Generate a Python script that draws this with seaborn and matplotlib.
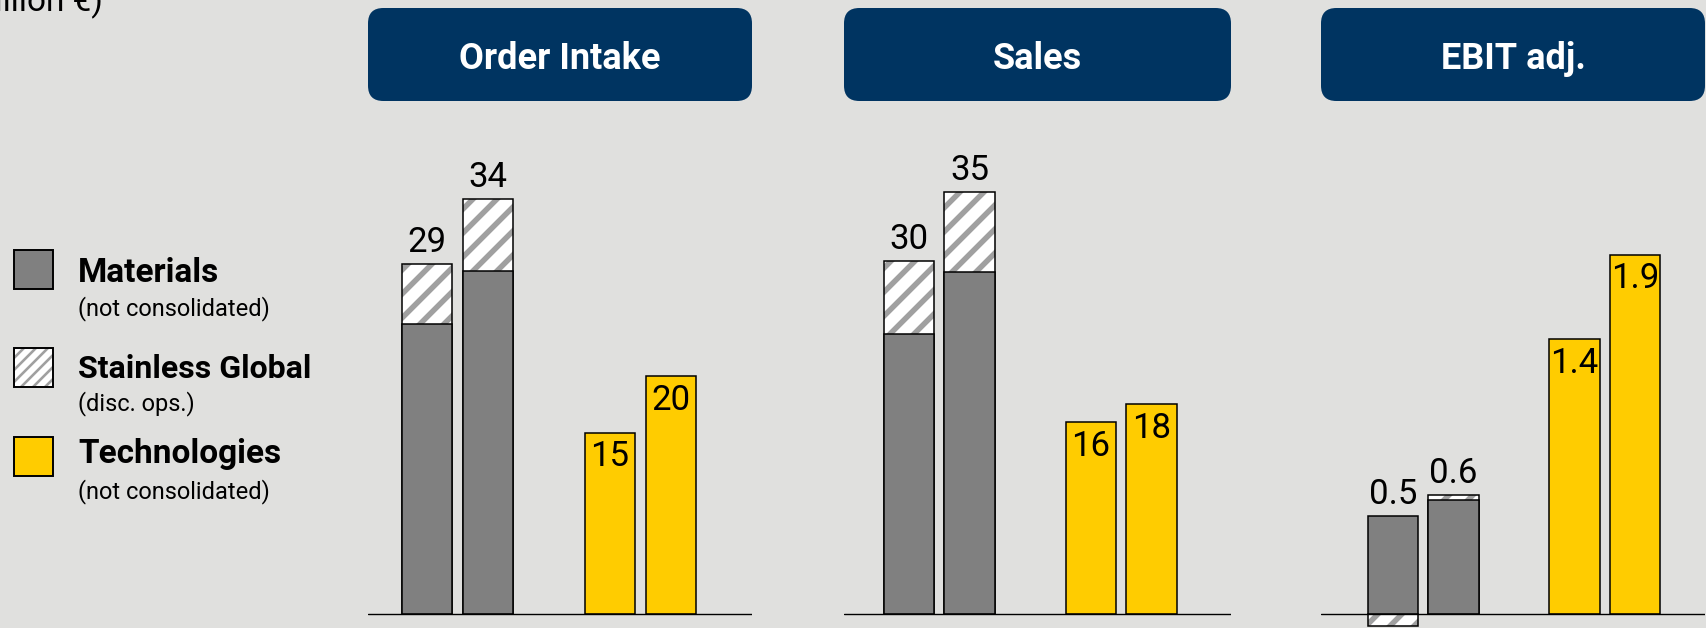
import matplotlib
matplotlib.use("Agg")
import matplotlib.pyplot as plt
from matplotlib.patches import FancyBboxPatch, Rectangle
import seaborn as sns

# ---------------- data ----------------
panel_titles = ["Order Intake", "Sales", "EBIT adj."]
legend_names = ["Materials", "Stainless Global", "Technologies"]
legend_notes = ["(not consolidated)", "(disc. ops.)", "(not consolidated)"]
unit_text = "(in million €)"

oi_materials = [24.0, 28.4]
oi_stainless = [5.0, 6.0]
oi_tech = [15.0, 19.7]
oi_mat_labels = ["29", "34"]
oi_tech_labels = ["15", "20"]

sales_materials = [23.5, 28.7]
sales_stainless = [6.1, 6.7]
sales_tech = [16.1, 17.6]
sales_mat_labels = ["30", "35"]
sales_tech_labels = ["16", "18"]

ebit_materials = [0.50, 0.58]
ebit_stainless = [-0.065, 0.024]
ebit_tech = [1.40, 1.83]
ebit_mat_labels = ["0.5", "0.6"]
ebit_tech_labels = ["1.4", "1.9"]

# ---------------- style ----------------
W, H, DPI = 1706, 628, 72
K = 100 / 72          # sizes below were tuned for 100 dpi
BG = "#e0e0de"
NAVY = "#003461"
GRAY = "#808080"
YELLOW = "#ffcc00"
HATCH_GRAY = "#a0a0a0"

sns.set_theme(style="white")
plt.rcParams["font.family"] = ["Roboto", "DejaVu Sans"]

fig = plt.figure(figsize=(W / DPI, H / DPI), dpi=DPI, facecolor=BG)

BAR_W = 0.83
pair_x = [0, 1]
tech_x = [3, 4]

layouts = [
    dict(L=368, R=752, c0=427, u=61.0, s=12.05),
    dict(L=844, R=1231, c0=909, u=60.6, s=11.9),
    dict(L=1321, R=1705, c0=1393, u=60.5, s=196.0),
]
datasets = [
    (oi_materials, oi_stainless, oi_tech, oi_mat_labels, oi_tech_labels),
    (sales_materials, sales_stainless, sales_tech, sales_mat_labels, sales_tech_labels),
    (ebit_materials, ebit_stainless, ebit_tech, ebit_mat_labels, ebit_tech_labels),
]

AX_TOP = 110      # px from top
BASE_Y = 613.5    # baseline px from top


def set_hlw(p, lw):
    if hasattr(p, "set_hatch_linewidth"):
        p.set_hatch_linewidth(lw)


def bars(ax, xs, hs, hatch_lw=None, **props):
    n0 = len(ax.patches)
    sns.barplot(x=xs, y=hs, native_scale=True, width=BAR_W, errorbar=None,
                ax=ax, color=GRAY)
    new = ax.patches[n0:]
    for p in new:
        p.set(**props)
        if hatch_lw is not None:
            set_hlw(p, hatch_lw)
    return new


plt.rcParams["hatch.linewidth"] = 5.5
for title, lay, (mat, sg, tech, mlab, tlab) in zip(panel_titles, layouts, datasets):
    L, R = lay["L"], lay["R"]
    ax = fig.add_axes([L / W, 0, (R - L) / W, (H - AX_TOP) / H])
    ax.set_facecolor("none")
    ax_h = H - AX_TOP
    below = H - BASE_Y
    s = lay["s"]
    ax.set_ylim(-below / s, (ax_h - below) / s)

    hatch_h = [m + v if v > 0 else v for m, v in zip(mat, sg)]
    bars(ax, pair_x, hatch_h, hatch_lw=5.5, facecolor="white",
         edgecolor=HATCH_GRAY, linewidth=0, hatch="/", zorder=2)
    bars(ax, pair_x, hatch_h, facecolor="none", edgecolor="black",
         linewidth=1.1 * K, zorder=3)
    bars(ax, pair_x, mat, facecolor=GRAY, edgecolor="black",
         linewidth=1.1 * K, zorder=4)
    bars(ax, tech_x, tech, facecolor=YELLOW, edgecolor="black",
         linewidth=1.1 * K, zorder=4)

    ax.axhline(0, color="black", lw=1.0 * K, zorder=5)

    for x, m, v, lab in zip(pair_x, mat, sg, mlab):
        top = max(m, m + v)
        ax.annotate(lab, xy=(x, top), xytext=(0, 8.5 * K), textcoords="offset points",
                    ha="center", va="baseline", fontsize=25 * K, color="black", zorder=6)
    for x, t, lab in zip(tech_x, tech, tlab):
        ax.annotate(lab, xy=(x, t), xytext=(0, -5.5 * K), textcoords="offset points",
                    ha="center", va="top", fontsize=25 * K, color="black", zorder=6)

    ax.set_xlim((L - lay["c0"]) / lay["u"], (R - lay["c0"]) / lay["u"])
    ax.axis("off")

    # header box
    box = FancyBboxPatch((L / W, 1 - 101 / H), (R - L) / W, 93 / H,
                         boxstyle="round,pad=0,rounding_size=0.009",
                         transform=fig.transFigure, facecolor=NAVY,
                         edgecolor="none", mutation_aspect=W / H)
    fig.add_artist(box)
    fig.text((L + R) / 2 / W, 1 - 69 / H, title, ha="center", va="baseline",
             fontsize=26 * K, fontweight="bold", color="white")

# ---------------- legend ----------------
sq_tops = [250, 347.5, 437]
name_base = [281.7, 377.7, 463.3]
note_base = [315, 410, 498]
legend_faces = [GRAY, "white", YELLOW]
plt.rcParams["hatch.linewidth"] = 2.6
for i, (nm, nt) in enumerate(zip(legend_names, legend_notes)):
    y0 = sq_tops[i]
    if i == 1:
        r = Rectangle((14 / W, 1 - (y0 + 39) / H), 39 / W, 39 / H,
                      transform=fig.transFigure, facecolor="white",
                      edgecolor=HATCH_GRAY, linewidth=0, hatch="//")
        set_hlw(r, 2.6)
        fig.add_artist(r)
        r2 = Rectangle((14 / W, 1 - (y0 + 39) / H), 39 / W, 39 / H,
                       transform=fig.transFigure, facecolor="none",
                       edgecolor="black", linewidth=1.4 * K)
        fig.add_artist(r2)
    else:
        r = Rectangle((14 / W, 1 - (y0 + 39) / H), 39 / W, 39 / H,
                      transform=fig.transFigure, facecolor=legend_faces[i],
                      edgecolor="black", linewidth=1.4 * K)
        fig.add_artist(r)
    fig.text(78 / W, 1 - name_base[i] / H, nm, ha="left", va="baseline",
             fontsize=(23 if i == 1 else 24) * K, fontweight="bold", color="black")
    fig.text(78 / W, 1 - note_base[i] / H, nt, ha="left", va="baseline",
             fontsize=17 * K, color="black")

fig.text(103 / W, 1 - 11.5 / H, unit_text, ha="right", va="baseline",
         fontsize=24 * K, color="black")

fig.savefig("out.png", dpi=DPI, facecolor=BG)
